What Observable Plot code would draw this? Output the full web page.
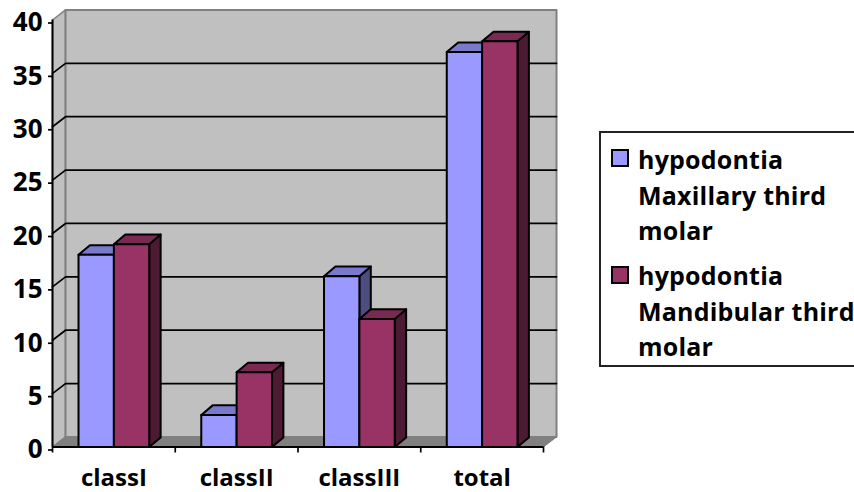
<!DOCTYPE html>
<html>
<head>
<meta charset="utf-8">
<script src="https://cdn.jsdelivr.net/npm/d3@7"></script>
<script src="https://cdn.jsdelivr.net/npm/@observablehq/plot@0.6"></script>
<style>
  html, body { margin: 0; padding: 0; background: #fff; overflow: hidden; }
  #wrap { position: relative; width: 854px; height: 492px; overflow: hidden; }
  #wrap svg { overflow: visible; position: absolute; left: 0; top: 0; }
  #legend { position: absolute; left: 598.5px; top: 131px; width: 270px; height: 232px; border: 2px solid #222; box-sizing: content-box;
    font: bold 25px/35.5px "Open Sans", sans-serif; color: #000; letter-spacing: 0.2px; }
  .entry { position: absolute; left: 37.5px; white-space: pre; }
  .swatch { position: absolute; left: 10px; width: 14px; height: 14px; border: 2px solid #000; }
</style>
</head>
<body>
<div id="wrap">
  <div id="legend"></div>
</div>
<script>
const categories = ["classI", "classII", "classIII", "total"];
const maxillary = [18, 3, 16, 37];
const mandibular = [19, 7, 12, 38];
const seriesNames = ["hypodontia\nMaxillary third\nmolar", "hypodontia\nMandibular third\nmolar"];
const yTicks = [0, 5, 10, 15, 20, 25, 30, 35, 40];

const colors = [
  {front: "#9999ff", top: "#7a7acc", side: "#4d4d80"},
  {front: "#993366", top: "#7a2952", side: "#4d1a33"}
];

// depth of the pseudo-3D box, in scale units
const wallDX = 0.106, wallDY = 0.94;
const barDX = 0.093, barDY = 0.9;
const barW = 0.288;

// one table of polygons, drawn back to front
function poly(id, pts) { return pts.map(([x, y]) => ({id, x, y})); }

const faces = [];
maxillary.forEach((_, i) => {
  const c = i + 0.5;
  [[maxillary[i], 0, c - barW, c], [mandibular[i], 1, c, c + barW]].forEach(([v, s, x0, x1]) => {
    const col = colors[s];
    faces.push({col: col.side, pts: poly(`${i}-${s}-side`, [[x1, 0], [x1 + barDX, barDY], [x1 + barDX, v + barDY], [x1, v]])});
    faces.push({col: col.top, pts: poly(`${i}-${s}-top`, [[x0, v], [x0 + barDX, v + barDY], [x1 + barDX, v + barDY], [x1, v]])});
    faces.push({col: col.front, pts: poly(`${i}-${s}-front`, [[x0, 0], [x0, v], [x1, v], [x1, 0]])});
  });
});

const n = categories.length;
const closed = {curve: "linear-closed", x: "x", y: "y", z: "id"};

const leftWall = poly("left", [[0, 0], [wallDX, wallDY], [wallDX, 40 + wallDY], [0, 40]]);
const backWall = poly("back", [[wallDX, wallDY], [wallDX, 40 + wallDY], [n + wallDX, 40 + wallDY], [n + wallDX, wallDY]]);
const floor = poly("floor", [[0, 0], [wallDX, wallDY], [n + wallDX, wallDY], [n, 0]]);
const gridData = yTicks.filter(v => v > 0 && v < 40).flatMap(v =>
  poly(`g${v}`, [[0, v], [wallDX, v + wallDY], [n + wallDX, v + wallDY]]));

const chart = Plot.plot({
  width: 854,
  height: 492,
  marginLeft: 52,
  marginRight: 311,
  marginTop: 19.5,
  marginBottom: 45.5,
  x: {domain: [0, n], axis: null},
  y: {domain: [0, 40], axis: null},
  style: {fontFamily: '"Open Sans", sans-serif', fontWeight: "bold", background: "transparent", color: "#000", overflow: "visible"},
  marks: [
    Plot.line(leftWall, {...closed, fill: "#c0c0c0", stroke: "#808080", strokeWidth: 1.5}),
    Plot.line(backWall, {...closed, fill: "#c0c0c0", stroke: "#808080", strokeWidth: 2}),
    Plot.line(floor, {...closed, fill: "#808080", stroke: "#808080", strokeWidth: 1}),
    Plot.line(gridData, {x: "x", y: "y", z: "id", stroke: "#000", strokeWidth: 1.7}),
    ...faces.map(f => Plot.line(f.pts, {...closed, fill: f.col, stroke: "#000", strokeWidth: 2})),
    Plot.ruleX([0], {stroke: "#000", strokeWidth: 2}),
    Plot.ruleY([0], {stroke: "#000", strokeWidth: 2.2}),
    Plot.axisY({ticks: yTicks, tickSize: 4, tickPadding: 6, fontSize: 26, dy: 3, stroke: "#000", strokeWidth: 1.7, label: null, fontWeight: "bold"}),
    Plot.axisX({ticks: d3.range(n + 1), tickSize: 6, tickFormat: null, text: null, stroke: "#000", strokeWidth: 1.7, label: null}),
    Plot.axisX({ticks: d3.range(n).map(i => i + 0.5), tickSize: 0, tickPadding: 22, tickFormat: d => categories[Math.floor(d)], fontSize: 24, fontWeight: "bold", label: null})
  ]
});
document.getElementById("wrap").prepend(chart);

const legend = document.getElementById("legend");
const entryTops = [9, 125];
const swatchTops = [16, 133];
seriesNames.forEach((name, i) => {
  const sw = document.createElement("div");
  sw.className = "swatch";
  sw.style.top = swatchTops[i] + "px";
  sw.style.background = colors[i].front;
  legend.appendChild(sw);
  const t = document.createElement("div");
  t.className = "entry";
  t.style.top = entryTops[i] + "px";
  t.textContent = name;
  legend.appendChild(t);
});
</script>
</body>
</html>
